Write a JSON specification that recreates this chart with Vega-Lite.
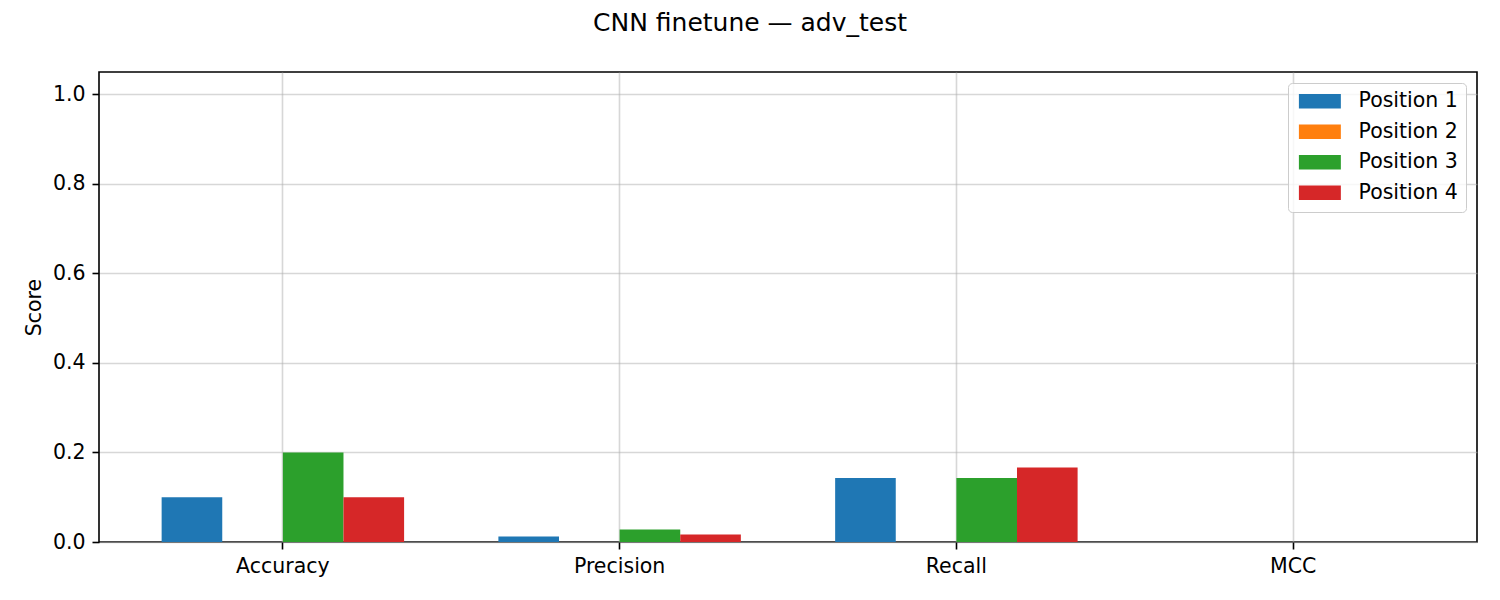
{
  "$schema": "https://vega.github.io/schema/vega-lite/v6.json",
  "width": 1378,
  "height": 470,
  "autosize": {"type": "none"},
  "padding": {"left": 99, "top": 72, "right": 23, "bottom": 58},
  "background": "white",
  "title": {
    "text": "CNN finetune — adv_test",
    "anchor": "middle",
    "frame": "group",
    "dx": -38,
    "offset": 16,
    "baseline": "alphabetic",
    "font": "DejaVu Sans",
    "fontSize": 25,
    "fontWeight": "normal",
    "color": "black"
  },
  "config": {
    "view": {"stroke": "black", "strokeWidth": 1.6},
    "axis": {
      "labelFont": "DejaVu Sans",
      "labelFontSize": 20.5,
      "labelColor": "black",
      "titleFont": "DejaVu Sans",
      "titleFontSize": 20.5,
      "titleFontWeight": "normal",
      "titleColor": "black",
      "tickColor": "black",
      "tickSize": 7,
      "tickWidth": 1.6,
      "labelPadding": 7,
      "domain": false,
      "grid": true,
      "gridColor": "#b0b0b0",
      "gridOpacity": 0.5,
      "gridWidth": 1.6
    },
    "legend": {
      "labelFont": "DejaVu Sans",
      "labelFontSize": 20.5,
      "labelColor": "black"
    }
  },
  "data": {
    "values": [
      {"metric": "Accuracy", "position": "Position 1", "score": 0.1},
      {"metric": "Accuracy", "position": "Position 2", "score": 0.0},
      {"metric": "Accuracy", "position": "Position 3", "score": 0.2},
      {"metric": "Accuracy", "position": "Position 4", "score": 0.1},
      {"metric": "Precision", "position": "Position 1", "score": 0.0125},
      {"metric": "Precision", "position": "Position 2", "score": 0.0},
      {"metric": "Precision", "position": "Position 3", "score": 0.0278},
      {"metric": "Precision", "position": "Position 4", "score": 0.0167},
      {"metric": "Recall", "position": "Position 1", "score": 0.1429},
      {"metric": "Recall", "position": "Position 2", "score": 0.0},
      {"metric": "Recall", "position": "Position 3", "score": 0.1429},
      {"metric": "Recall", "position": "Position 4", "score": 0.1667},
      {"metric": "MCC", "position": "Position 1", "score": 0.0},
      {"metric": "MCC", "position": "Position 2", "score": 0.0},
      {"metric": "MCC", "position": "Position 3", "score": 0.0},
      {"metric": "MCC", "position": "Position 4", "score": 0.0}
    ]
  },
  "mark": {"type": "bar", "strokeWidth": 0},
  "encoding": {
    "x": {
      "field": "metric",
      "type": "nominal",
      "sort": ["Accuracy", "Precision", "Recall", "MCC"],
      "scale": {"paddingInner": 0.28, "paddingOuter": 0.186},
      "axis": {"title": null, "labelAngle": 0, "bandPosition": 0.5}
    },
    "xOffset": {
      "field": "position",
      "type": "nominal",
      "scale": {"paddingInner": 0, "paddingOuter": 0}
    },
    "y": {
      "field": "score",
      "type": "quantitative",
      "title": "Score",
      "scale": {"domain": [0, 1.05], "nice": false, "zero": true},
      "axis": {
        "values": [0, 0.2, 0.4, 0.6, 0.8, 1.0],
        "format": ".1f",
        "titlePadding": 8
      }
    },
    "color": {
      "field": "position",
      "type": "nominal",
      "scale": {
        "domain": ["Position 1", "Position 2", "Position 3", "Position 4"],
        "range": ["#1f77b4", "#ff7f0e", "#2ca02c", "#d62728"]
      },
      "legend": {
        "title": null,
        "orient": "top-right",
        "offset": 11,
        "padding": 8,
        "fillColor": "rgba(255,255,255,0.8)",
        "strokeColor": "#cccccc",
        "cornerRadius": 4,
        "symbolType": "M-1,-1H4.71V1H-1Z",
        "symbolSize": 216,
        "symbolStrokeWidth": 0,
        "symbolOpacity": 1,
        "labelOffset": 42,
        "rowPadding": 9.5
      }
    }
  }
}
